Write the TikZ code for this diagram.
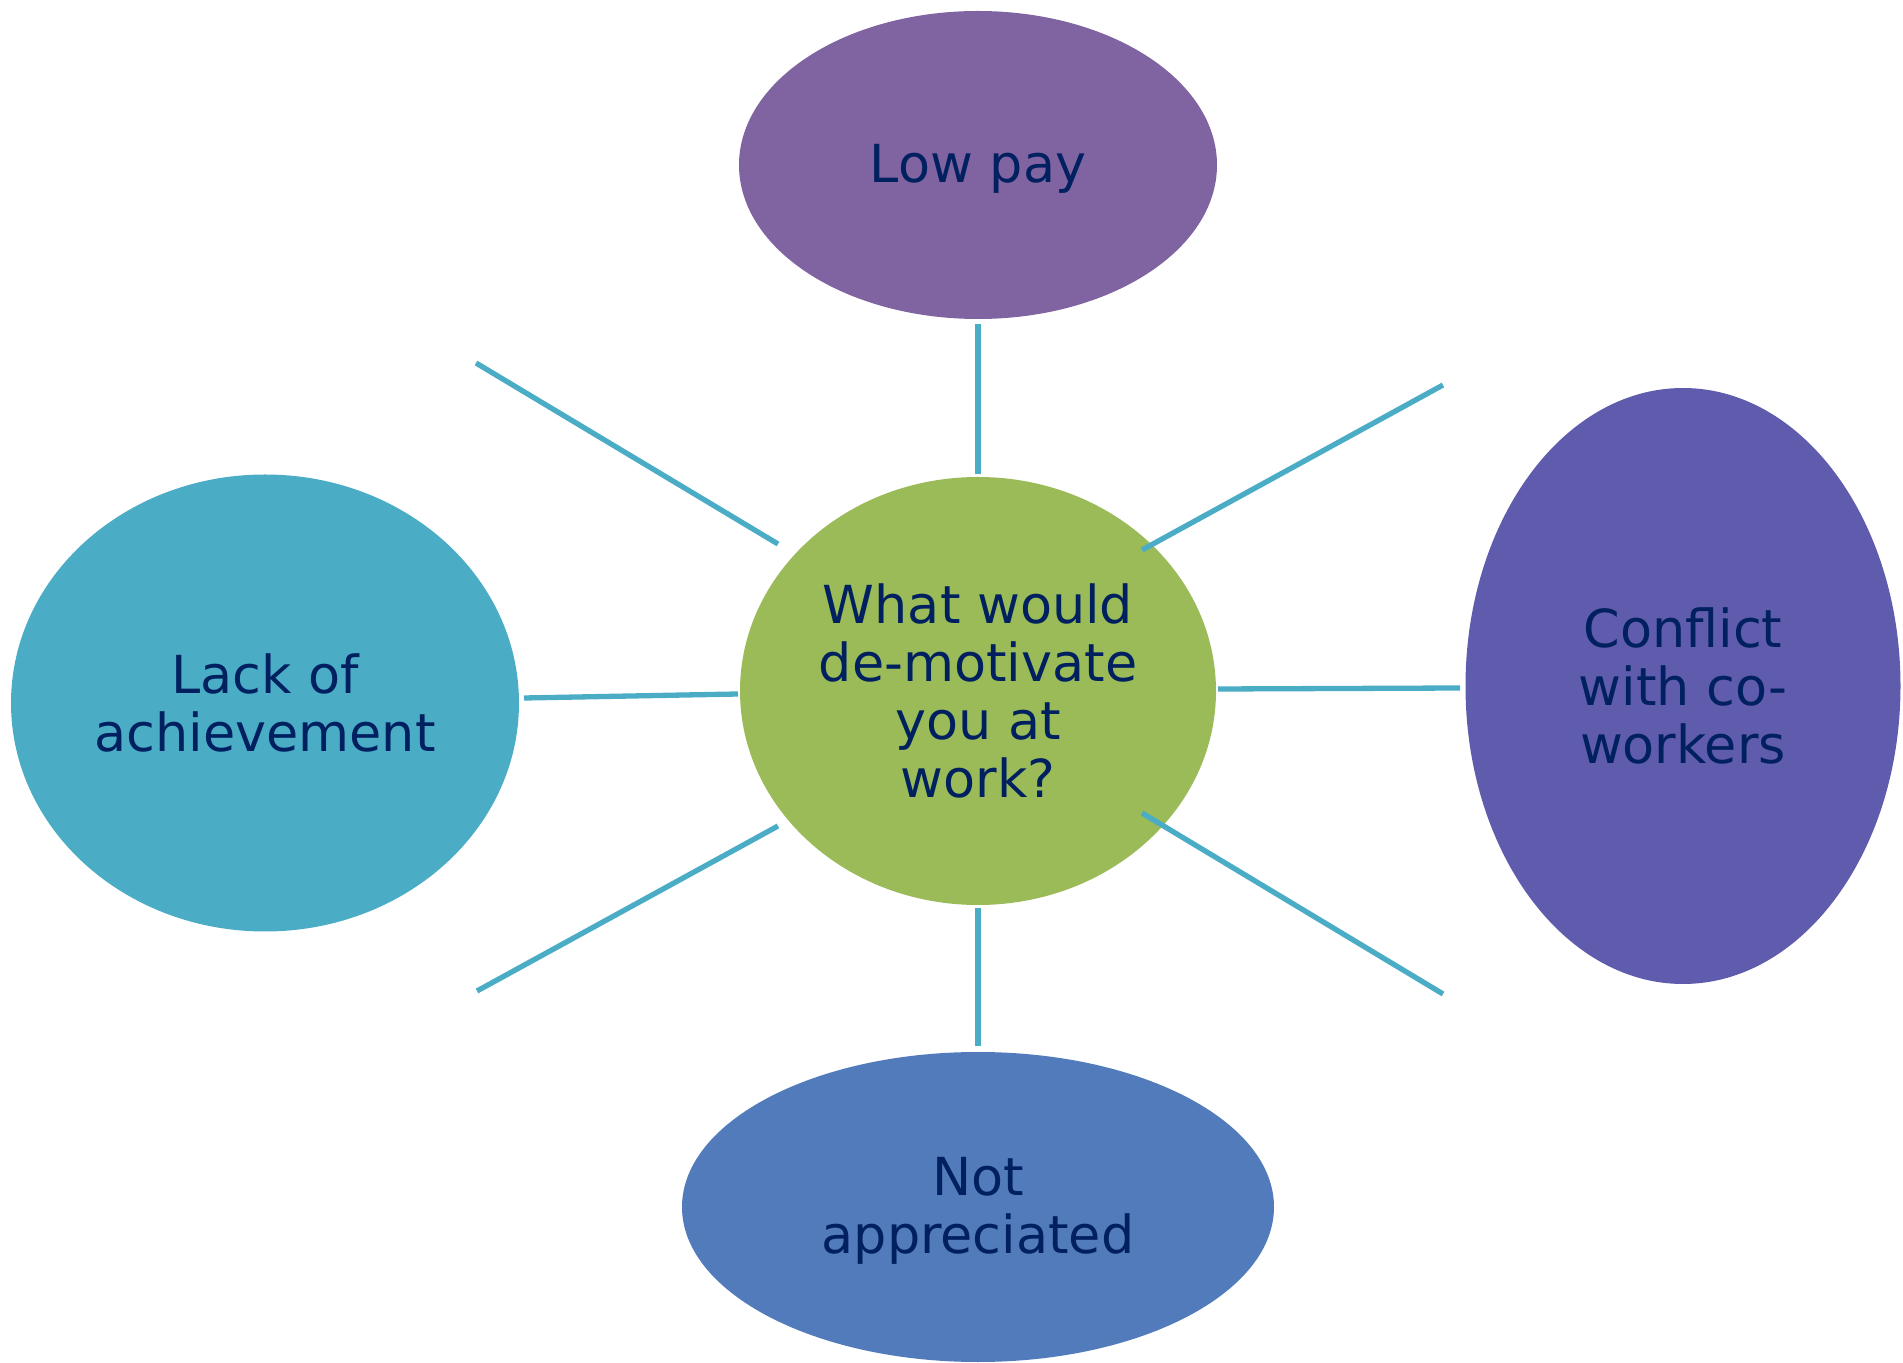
\documentclass[tikz,border=0pt]{standalone}
\usepackage{fontspec}
\setmainfont{DejaVu Sans}
\usetikzlibrary{shapes.geometric}

\definecolor{textnavy}{HTML}{002060}
\definecolor{spoke}{HTML}{4BACC6}
\definecolor{lowpay}{HTML}{8064A2}
\definecolor{hub}{HTML}{9BBB59}
\definecolor{lack}{HTML}{4BACC6}
\definecolor{conflict}{HTML}{5F5BAD}
\definecolor{notapp}{HTML}{527BBB}

\tikzset{
  bubble/.style={ellipse, draw=none, inner sep=0pt, align=center,
    text=textnavy, font=\fontsize{26.2}{29}\selectfont},
  spokeline/.style={draw=spoke, line width=2.65pt}
}

\begin{document}
\begin{tikzpicture}[x=0.5pt, y=-0.5pt]
  \useasboundingbox (0,0) rectangle (1903,1363);

  % central question and the four answers around it
  \node[bubble, fill=hub, minimum width=238pt, minimum height=214pt]
    (hub) at (978,691) {What would\\de-motivate\\you at\\work?};
  \node[bubble, fill=lowpay, minimum width=239pt, minimum height=154pt,
    text depth=2pt]
    (low) at (978,165) {Low pay};
  \node[bubble, fill=lack, minimum width=254pt, minimum height=228.5pt]
    (lack) at (265,703) {Lack of\\achievement};
  \node[bubble, fill=conflict, minimum width=217.5pt, minimum height=298pt]
    (conf) at (1683,686) {Conflict\\with co-\\workers};
  \node[bubble, fill=notapp, minimum width=296pt, minimum height=155pt,
    text depth=2pt]
    (notap) at (978,1207) {Not\\appreciated};

  % spoke end points
  \coordinate (t1) at (978,324);   \coordinate (t2) at (978,474);
  \coordinate (ul1) at (476,363);  \coordinate (ul2) at (778,544);
  \coordinate (ur1) at (1142,550); \coordinate (ur2) at (1443,385);
  \coordinate (l1) at (524,698);   \coordinate (l2) at (738,694);
  \coordinate (r1) at (1218,689);  \coordinate (r2) at (1460,688);
  \coordinate (ll1) at (778,826);  \coordinate (ll2) at (477,991);
  \coordinate (lr1) at (1142,813); \coordinate (lr2) at (1443,994);
  \coordinate (b1) at (978,908);   \coordinate (b2) at (978,1046);

  % spokes
  \draw[spokeline] (t1) -- (t2);
  \draw[spokeline] (ul1) -- (ul2);
  \draw[spokeline] (ur1) -- (ur2);
  \draw[spokeline] (l1) -- (l2);
  \draw[spokeline] (r1) -- (r2);
  \draw[spokeline] (ll1) -- (ll2);
  \draw[spokeline] (lr1) -- (lr2);
  \draw[spokeline] (b1) -- (b2);
\end{tikzpicture}
\end{document}
